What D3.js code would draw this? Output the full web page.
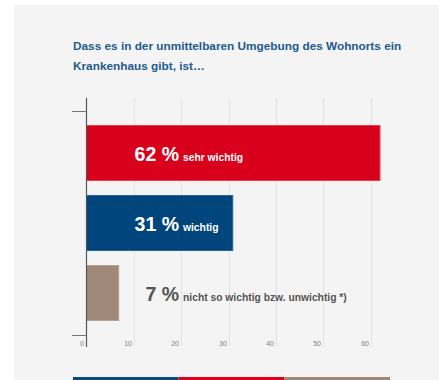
<!DOCTYPE html>
<html><head><meta charset="utf-8">
<script src="https://cdn.jsdelivr.net/npm/d3@7"></script>
<style>
html,body{margin:0;padding:0;background:#fff;}
svg{display:block;font-family:"Liberation Sans",Arial,Helvetica,sans-serif;}
</style></head>
<body>
<svg id="c" width="439" height="380"></svg>
<script>
const titleLines = ["Dass es in der unmittelbaren Umgebung des Wohnorts ein", "Krankenhaus gibt, ist…"];
const categories = ["sehr wichtig", "wichtig", "nicht so wichtig bzw. unwichtig *)"];
const values = [62, 31, 7];
const barColors = ["#d9001b", "#00457c", "#a08878"];
const barStrokes = ["#e8404f", "#2a6396", "#b8a496"];
const numColors = ["#ffffff", "#ffffff", "#555555"];
const tickValues = [0, 10, 20, 30, 40, 50, 60];
const stripColors = ["#0b4a80", "#e0001b", "#a08878"];

const svg = d3.select("#c");
svg.append("rect").attr("x", 14).attr("y", 5).attr("width", 425).attr("height", 375).attr("fill", "#f4f4f4");

const title = svg.append("text").attr("fill", "#1d5a8e").attr("font-weight", "bold").attr("font-size", 11.8);
titleLines.forEach((t, i) => title.append("tspan").attr("x", 73).attr("y", 50 + i * 19.5).text(t));

const x = d3.scaleLinear().domain([0, 62]).range([86, 380.5]);
const y = d3.scaleBand().domain(categories).range([118, 328]).paddingInner(0.2).paddingOuter(0.1);

// gridlines
svg.append("g").selectAll("line").data(tickValues.slice(1)).join("line")
  .attr("x1", d => Math.round(x(d)) + 0.5).attr("x2", d => Math.round(x(d)) + 0.5)
  .attr("y1", 98).attr("y2", 346).attr("stroke", "#e2e2e2").attr("stroke-width", 1);

// tick labels
svg.append("g").selectAll("text").data(tickValues).join("text")
  .attr("x", d => Math.round(x(d)) - 2).attr("y", 346).attr("text-anchor", "end")
  .attr("font-size", 7).attr("fill", "#808080").text(d => d);

// bars
svg.append("g").selectAll("rect").data(values).join("rect")
  .attr("x", x(0) + 0.5).attr("y", (d, i) => y(categories[i]) + 0.5)
  .attr("width", d => x(d) - x(0) - 1).attr("height", y.bandwidth() - 1)
  .attr("fill", (d, i) => barColors[i]).attr("stroke", (d, i) => barStrokes[i]).attr("stroke-width", 1);

// y axis
svg.append("line").attr("x1", 86.5).attr("x2", 86.5).attr("y1", 98).attr("y2", 347).attr("stroke", "#555").attr("stroke-width", 1.2);
[111, 335].forEach(v => svg.append("line").attr("x1", 72).attr("x2", 86).attr("y1", v + 0.5).attr("y2", v + 0.5).attr("stroke", "#777").attr("stroke-width", 1));

// labels
const lab = svg.append("g").selectAll("g").data(values).join("g");
lab.append("text").attr("x", 179).attr("y", (d, i) => y(categories[i]) + y.bandwidth() / 2 + 7.5)
  .attr("text-anchor", "end").attr("font-size", 19.5).attr("font-weight", "bold")
  .attr("fill", (d, i) => numColors[i]).text(d => d + " %");
lab.append("text").attr("x", 183).attr("y", (d, i) => y(categories[i]) + y.bandwidth() / 2 + 7.5)
  .attr("font-size", 10.3).attr("font-weight", "bold")
  .attr("fill", (d, i) => numColors[i]).text((d, i) => categories[i]);

// bottom strip
const sx = d3.scaleBand().domain(stripColors).range([73, 390]);
svg.append("g").selectAll("rect").data(stripColors).join("rect")
  .attr("x", d => sx(d)).attr("y", 377).attr("width", sx.bandwidth()).attr("height", 3).attr("fill", d => d);
</script>
</body></html>
